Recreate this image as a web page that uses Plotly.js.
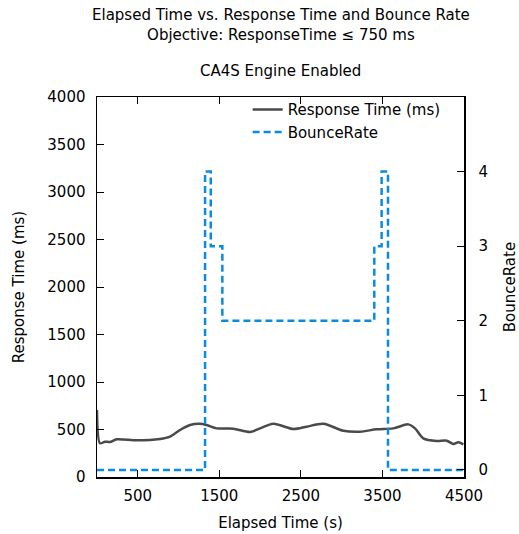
<!DOCTYPE html>
<html>
<head>
<meta charset="utf-8">
<script src="https://cdn.plot.ly/plotly-3.0.1.min.js"></script>
<style>html,body{margin:0;padding:0;background:#fff;}#chart{width:519px;height:534px;}</style>
</head>
<body>
<div id="chart"></div>
<script>
const elapsedTime = [0, 37, 98, 160, 241, 486, 773, 895, 1018, 1140, 1263, 1345, 1468, 1672, 1876, 1999, 2162, 2408, 2571, 2775, 3020, 3224, 3429, 3633, 3817, 3899, 4001, 4164, 4287, 4369, 4430, 4492];
const responseTime = [705, 355, 372, 368, 397, 386, 400, 425, 495, 547, 561, 547, 512, 509, 474, 512, 561, 505, 530, 561, 487, 477, 502, 512, 554, 512, 407, 379, 382, 347, 365, 344];
const bounceTimes = [0, 1325, 1395, 1537, 3400, 3490, 3568, 4500];
const bounceRates = [0, 4, 3, 2, 3, 4, 0, 0];
const xTicks = [500, 1500, 2500, 3500, 4500];
const yTicks = [0, 500, 1000, 1500, 2000, 2500, 3000, 3500, 4000];
const y2Ticks = [0, 1, 2, 3, 4];
const titleLines = ['Elapsed Time vs. Response Time and Bounce Rate', 'Objective: ResponseTime ≤ 750 ms'];
const subtitle = 'CA4S Engine Enabled';

const font = {family: 'DejaVu Sans, sans-serif', size: 15, color: '#000'};

const traces = [
  {
    x: elapsedTime, y: responseTime, name: 'Response Time (ms)', type: 'scatter', mode: 'lines',
    line: {color: '#4a4a4a', width: 2.5, shape: 'spline', smoothing: 0.8}, yaxis: 'y'
  },
  {
    x: bounceTimes, y: bounceRates, name: 'BounceRate', type: 'scatter', mode: 'lines',
    line: {color: '#0b8be0', width: 2.5, shape: 'hv', dash: '7px,4px'}, yaxis: 'y2'
  }
];

const layout = {
  width: 519, height: 534,
  margin: {l: 97, r: 55, t: 97, b: 57},
  paper_bgcolor: '#fff', plot_bgcolor: '#fff',
  font: font,
  showlegend: true,
  legend: {x: 0.95, xanchor: 'right', y: 1.01, yanchor: 'top', bgcolor: 'rgba(0,0,0,0)',
           font: font, tracegroupgap: 0},
  xaxis: {
    range: [0, 4500], tickvals: xTicks, ticktext: xTicks.map(String),
    ticks: 'inside', ticklen: 7, tickcolor: '#000', showline: true, linecolor: '#000', linewidth: 1.5,
    mirror: 'ticks', showgrid: false, zeroline: false, ticklabelstandoff: 4,
    title: {text: 'Elapsed Time (s)', font: font, standoff: 14}
  },
  yaxis: {
    range: [0, 4000], tickvals: yTicks, ticks: 'inside', ticklen: 7, tickcolor: '#000',
    showline: true, linecolor: '#000', linewidth: 1.5, mirror: true, showgrid: false, zeroline: false,
    ticklabelstandoff: 7,
    title: {text: 'Response Time (ms)', font: font, standoff: 19}
  },
  yaxis2: {
    overlaying: 'y', side: 'right', range: [-0.094, 5.0], tickvals: y2Ticks,
    ticks: 'inside', ticklen: 7, tickcolor: '#000', showline: true, linecolor: '#000', linewidth: 1.5,
    showgrid: false, zeroline: false, ticklabelstandoff: 10,
    title: {text: 'BounceRate', font: font, standoff: 25}
  },
  annotations: [
    {text: titleLines.join('<br>'), xref: 'paper', yref: 'paper', x: 0.5, y: 1.0, yanchor: 'middle', yshift: 72,
     showarrow: false, font: font},
    {text: subtitle, xref: 'paper', yref: 'paper', x: 0.5, y: 1.0, yanchor: 'middle', yshift: 26,
     showarrow: false, font: font}
  ]
};

Plotly.newPlot('chart', traces, layout, {displayModeBar: false, staticPlot: true});
</script>
</body>
</html>
